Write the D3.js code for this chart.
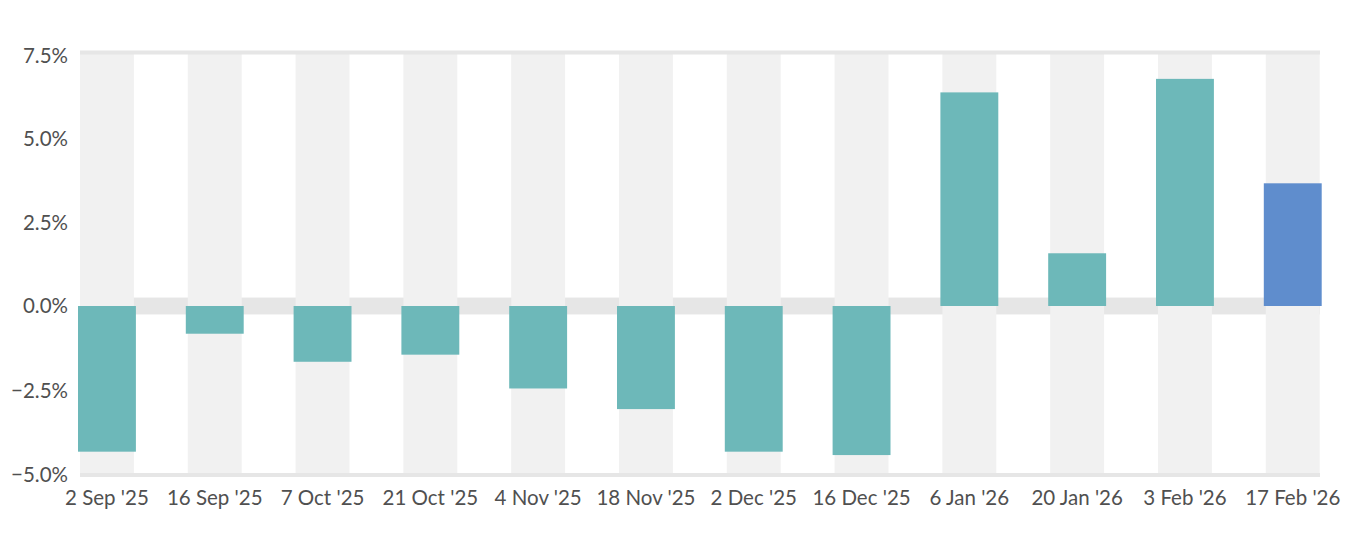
<!DOCTYPE html>
<html>
<head>
<meta charset="utf-8">
<script src="https://cdn.jsdelivr.net/npm/d3@7"></script>
<style>
  html, body { margin: 0; padding: 0; background: #fff; }
  svg { display: block; }
  text { font-family: Lato, "Noto Sans", sans-serif; }
</style>
</head>
<body>
<svg id="chart" width="1372" height="536"></svg>
<script>
const categories = ["2 Sep '25","16 Sep '25","7 Oct '25","21 Oct '25","4 Nov '25","18 Nov '25","2 Dec '25","16 Dec '25","6 Jan '26","20 Jan '26","3 Feb '26","17 Feb '26"];
const values = [-4.31, -0.82, -1.65, -1.44, -2.44, -3.05, -4.31, -4.41, 6.32, 1.56, 6.72, 3.63];
const yTicks = [-5, -2.5, 0, 2.5, 5, 7.5];
const highlightIndex = 11;

(function () {
const W = 1372, H = 536;
const pLeft = 80, pRight = 1320, pTop = 52.5, pBottom = 475;
const step = 107.8;

const svg = d3.select("#chart");
const x = d3.scaleBand().domain(categories).range([pLeft, pLeft + step * categories.length]).paddingInner(0).paddingOuter(0);
const y = d3.scaleLinear().domain([-5, 7.5]).range([pBottom, pTop]);

svg.append("defs").append("clipPath").attr("id", "plotclip")
  .append("rect").attr("x", pLeft - 3).attr("y", 0).attr("width", pRight - pLeft + 5).attr("height", H);

const g = svg.append("g").attr("clip-path", "url(#plotclip)");

// zero band
g.append("rect")
  .attr("x", pLeft).attr("width", pRight - pLeft)
  .attr("y", y(0.25)).attr("height", y(-0.25) - y(0.25))
  .attr("fill", "#e6e6e6");

// alternating columns
const colW = x.bandwidth() / 2;
g.selectAll("rect.col").data(categories).join("rect")
  .attr("class", "col")
  .attr("x", d => x(d))
  .attr("width", d => Math.min(colW, pRight - x(d)))
  .attr("y", y(7.5))
  .attr("height", y(-5) - y(7.5))
  .attr("fill", "#f1f1f1");

// top & bottom lines
[7.5, -5].forEach(v => {
  g.append("line")
    .attr("x1", pLeft).attr("x2", pRight)
    .attr("y1", y(v)).attr("y2", y(v))
    .attr("stroke", "#e6e6e6").attr("stroke-width", 4);
});

// bars
const barW = colW + 4;
g.selectAll("rect.bar").data(values).join("rect")
  .attr("class", "bar")
  .attr("x", (d, i) => x(categories[i]) + colW / 2 - barW / 2)
  .attr("width", barW)
  .attr("y", d => y(Math.max(0, d)))
  .attr("height", d => Math.abs(y(d) - y(0)))
  .attr("fill", (d, i) => i === highlightIndex ? "#5f8dcd" : "#6db8b9");

// y axis labels
svg.append("g").selectAll("text").data(yTicks).join("text")
  .attr("x", 68).attr("y", d => y(d) + (d > 0 ? d * 0.35 : 0))
  .attr("dy", "0.36em")
  .attr("text-anchor", "end")
  .attr("font-size", 20.5)
  .attr("fill", "#505050")
  .text(d => d3.format(".1f")(d) + "%");

// x axis labels
svg.append("g").selectAll("text").data(categories).join("text")
  .attr("x", d => x(d) + colW / 2)
  .attr("y", 498)
  .attr("dy", "0.36em")
  .attr("text-anchor", "middle")
  .attr("font-size", 20.5)
  .attr("fill", "#505050")
  .text(d => d);
})();
</script>
</body>
</html>
